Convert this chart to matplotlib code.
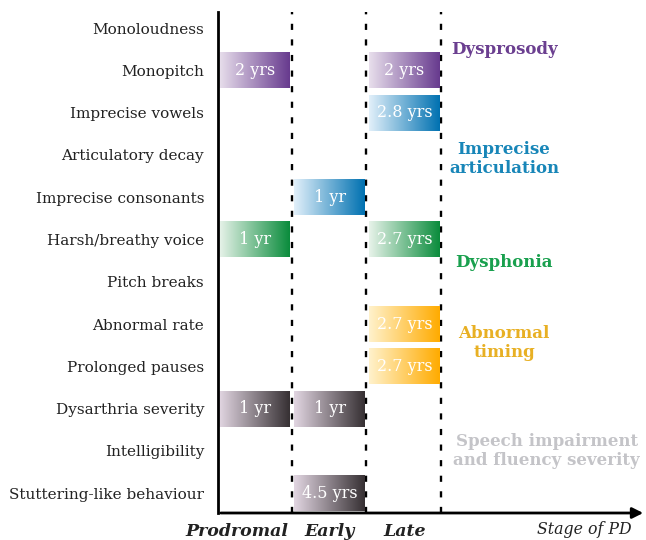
import matplotlib.pyplot as plt
import numpy as np
from matplotlib.colors import LinearSegmentedColormap

plt.rcParams['font.family'] = 'DejaVu Serif'

# ── data ──
rows = ["Monoloudness", "Monopitch", "Imprecise vowels", "Articulatory decay",
        "Imprecise consonants", "Harsh/breathy voice", "Pitch breaks",
        "Abnormal rate", "Prolonged pauses", "Dysarthria severity",
        "Intelligibility", "Stuttering-like behaviour"]
stages = ["Prodromal", "Early", "Late"]

bar_rows = ["Monopitch", "Monopitch", "Imprecise vowels", "Imprecise consonants",
            "Harsh/breathy voice", "Harsh/breathy voice", "Abnormal rate",
            "Prolonged pauses", "Dysarthria severity", "Dysarthria severity",
            "Stuttering-like behaviour"]
bar_stages = [0, 2, 2, 1, 0, 2, 2, 2, 0, 1, 1]
bar_labels = ["2 yrs", "2 yrs", "2.8 yrs", "1 yr", "1 yr", "2.7 yrs",
              "2.7 yrs", "2.7 yrs", "1 yr", "1 yr", "4.5 yrs"]
bar_groups = ["dysprosody", "dysprosody", "articulation", "articulation",
              "dysphonia", "dysphonia", "timing", "timing",
              "severity", "severity", "severity"]

group_names = ["dysprosody", "articulation", "dysphonia", "timing", "severity"]
group_titles = ["Dysprosody", "Imprecise\narticulation", "Dysphonia",
                "Abnormal\ntiming", "Speech impairment\nand fluency severity"]
group_title_pos = [0.5, 3.1, 5.55, 7.45, 10.0]

# light -> dark gradient per group
grad_light = {"dysprosody": "#e8dfec", "articulation": "#e2f0fa", "dysphonia": "#e8f3ea",
              "timing": "#fff2cc", "severity": "#e2d6e2"}
grad_dark = {"dysprosody": "#673a8e", "articulation": "#0071b1", "dysphonia": "#0a8c3c",
             "timing": "#ffab00", "severity": "#363033"}
title_col = {"dysprosody": "#6b3f90", "articulation": "#1886b8", "dysphonia": "#19a04e",
             "timing": "#e8b024", "severity": "#c4c4c8"}

fig = plt.figure(figsize=(6.46, 5.4), dpi=100)
ax = fig.add_axes([218 / 646, 1 - 513 / 540, 1 - 218 / 646, (513 - 12) / 540])
ax.set_xlim(0, 5.73)
ax.set_ylim(11.47, -0.38)

ypos = {r: i for i, r in enumerate(rows)}
grad = np.linspace(0, 1, 256).reshape(1, -1)

for r, s, lab, g in zip(bar_rows, bar_stages, bar_labels, bar_groups):
    y = ypos[r]
    x0, x1 = s + 0.02, s + 0.97
    cmap = LinearSegmentedColormap.from_list(g, [grad_light[g], grad_dark[g]])
    ax.imshow(grad, cmap=cmap, aspect='auto', interpolation='bicubic',
              extent=(x0, x1, y + 0.425, y - 0.425), zorder=2)
    ax.text((x0 + x1) / 2, y, lab, color='white', ha='center', va='center',
            fontsize=11.5, zorder=3)

for xd in [1, 2, 3]:
    ax.axvline(xd - 0.015, color='black', linestyle=(0, (2.6, 4.0)), linewidth=1.7, zorder=1)

for g, t, yp in zip(group_names, group_titles, group_title_pos):
    xt = 3.83 if g != "severity" else 4.4
    ax.text(xt, yp, t, color=title_col[g], ha='center', va='center',
            fontsize=12, fontweight='bold', linespacing=1.1)

ax.set_yticks(range(len(rows)))
ax.set_yticklabels(rows, fontsize=11, color='#222222')
ax.tick_params(axis='y', length=0, pad=10)
ax.set_xticks([])
for sp in ['top', 'right', 'bottom']:
    ax.spines[sp].set_visible(False)
ax.spines['left'].set_linewidth(2)

ax.annotate('', xy=(5.73, 11.47), xytext=(0, 11.47),
            arrowprops=dict(arrowstyle='-|>', color='black', lw=2, mutation_scale=16),
            annotation_clip=False)

stage_x = [0.25, 1.49, 2.5]
for sx, st in zip(stage_x, stages):
    ax.text(sx, 11.9, st, ha='center', va='center', fontsize=12.5,
            fontweight='bold', fontstyle='italic', color='#222222')
ax.text(5.54, 11.85, 'Stage of PD', ha='right', va='center', fontsize=11.3,
        fontstyle='italic', color='#222222')

fig.savefig('out.png', dpi=100)
